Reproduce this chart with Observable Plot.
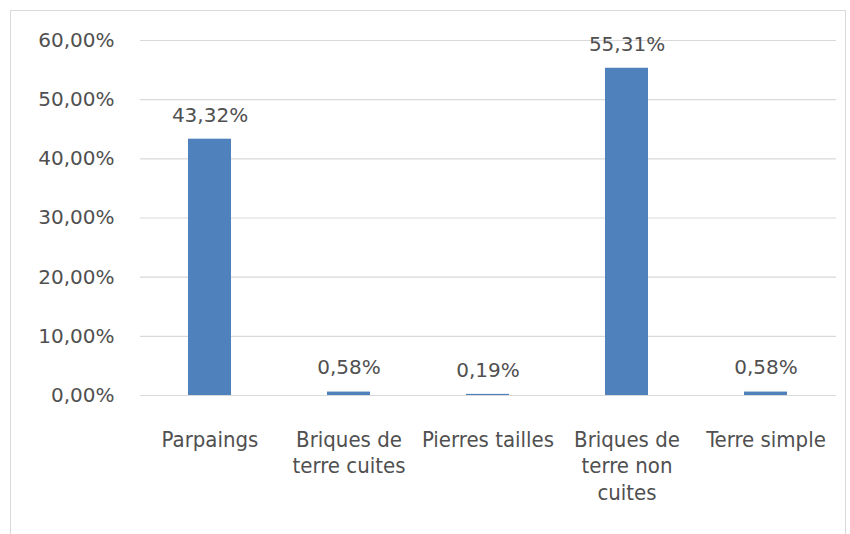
<!DOCTYPE html>
<html>
<head>
<meta charset="utf-8">
<script src="https://cdn.jsdelivr.net/npm/d3@7"></script>
<script src="https://cdn.jsdelivr.net/npm/@observablehq/plot@0.6"></script>
<style>
  body { margin: 0; background: #fff; }
  #wrap { position: relative; width: 850px; height: 534px; overflow: hidden; }
  #frame { position: absolute; left: 10px; top: 10px; width: 836px; height: 530px; border: 1px solid #d9d9d9; box-sizing: border-box; pointer-events: none; }
</style>
</head>
<body>
<div id="wrap"><div id="frame"></div><div id="chart"></div></div>
<script>
const categories = ["Parpaings", "Briques de terre cuites", "Pierres tailles", "Briques de terre non cuites", "Terre simple"];
const categoryLabels = ["Parpaings", "Briques de\nterre cuites", "Pierres tailles", "Briques de\nterre non\ncuites", "Terre simple"];
const values = [43.32, 0.58, 0.19, 55.31, 0.58];
const yTicks = [0, 10, 20, 30, 40, 50, 60];

const data = categories.map((c, i) => ({category: c, value: values[i]}));
const fmt = d => d.toFixed(2).replace(".", ",") + "%";
const labelOf = new Map(categories.map((c, i) => [c, categoryLabels[i]]));

const chart = Plot.plot({
  width: 850,
  height: 534,
  marginLeft: 140,
  marginRight: 14,
  marginTop: 40,
  marginBottom: 139,
  style: {background: "transparent", color: "#505050"},
  x: {domain: categories, paddingInner: 0.69, paddingOuter: 0.345, label: null},
  y: {domain: [0, 60], label: null},
  marks: [
    Plot.gridY(yTicks, {stroke: "#d9d9d9", strokeOpacity: 1, strokeWidth: 1.2}),
    Plot.barY(data, {x: "category", y: "value", fill: "#4f81bd"}),
    Plot.text(data, {x: "category", y: "value", text: d => fmt(d.value), dy: -24, fill: "#505050", fontSize: 20, fontFamily: "DejaVu Sans"}),
    Plot.axisY(yTicks, {tickFormat: fmt, tickSize: 0, tickPadding: 26, fontSize: 20, fontFamily: "DejaVu Sans", fill: "#505050", label: null}),
    Plot.axisX({tickFormat: d => labelOf.get(d), tickSize: 0, tickPadding: 32, fontSize: 22, fontFamily: "Liberation Sans Narrow, DejaVu Sans Condensed, sans-serif", fill: "#505050", lineHeight: 1.22, textAnchor: "middle", label: null})
  ]
});
document.getElementById("chart").appendChild(chart);
</script>
</body>
</html>
